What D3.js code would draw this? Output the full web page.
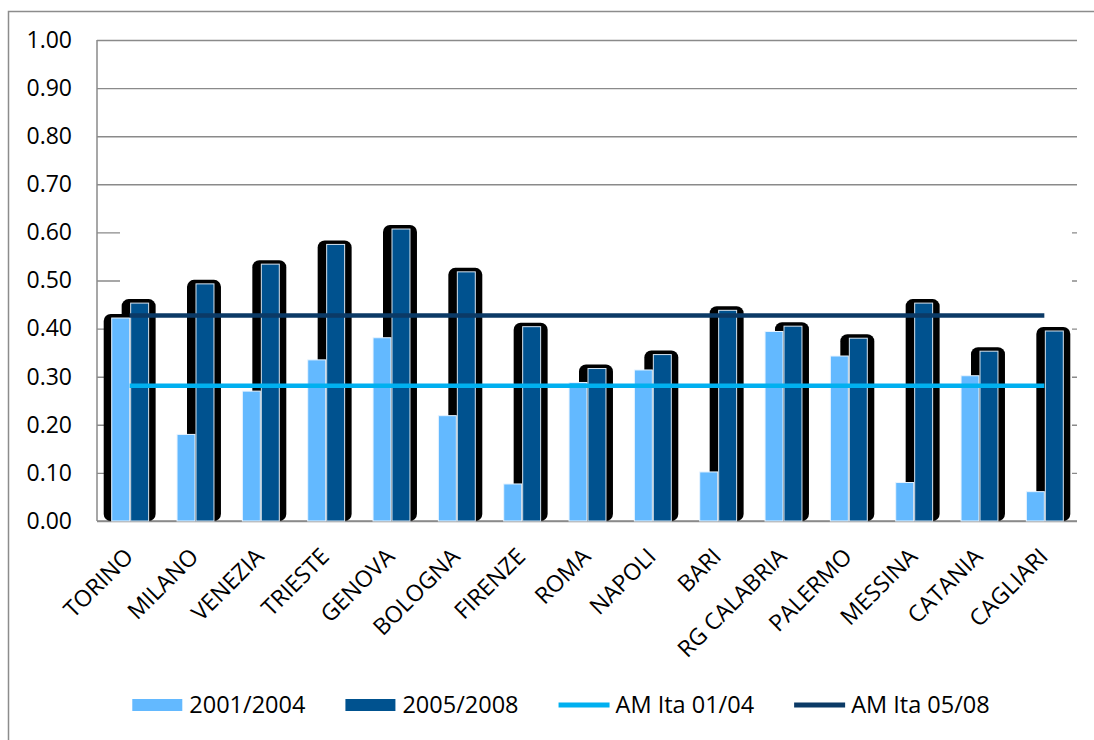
<!DOCTYPE html>
<html>
<head>
<meta charset="utf-8">
<script src="https://cdn.jsdelivr.net/npm/d3@7"></script>
<style>
  body { margin: 0; background: #fff; }
  svg { display: block; font-family: "Open Sans", sans-serif; }
</style>
</head>
<body>
<svg id="chart" width="1094" height="740"></svg>
<script>
var cities = ["TORINO", "MILANO", "VENEZIA", "TRIESTE", "GENOVA", "BOLOGNA", "FIRENZE", "ROMA",
  "NAPOLI", "BARI", "RG CALABRIA", "PALERMO", "MESSINA", "CATANIA", "CAGLIARI"];
var val0104 = [0.422, 0.18, 0.27, 0.335, 0.381, 0.219, 0.077, 0.288, 0.314, 0.102, 0.394, 0.343, 0.08, 0.302, 0.061];
var val0508 = [0.453, 0.493, 0.534, 0.575, 0.607, 0.518, 0.404, 0.317, 0.346, 0.438, 0.405, 0.38, 0.453, 0.353, 0.395];
var avg0104 = 0.281, avg0508 = 0.427;
var yTicks = [0, 0.1, 0.2, 0.3, 0.4, 0.5, 0.6, 0.7, 0.8, 0.9, 1.0];
var seriesNames = ["2001/2004", "2005/2008", "AM Ita 01/04", "AM Ita 05/08"];

var width = 1094, height = 740,
margin = {"top": 40, "right": 17, "bottom": 219, "left": 97};

var colLight = "#63b9ff", colDark = "#00528f", colAvg1 = "#00b0f0", colAvg2 = "#0b3a66", gridCol = "#8a8a8a";

var svg = d3.select("#chart");

// outer chart border (only left/top visible in the picture)
svg.append("rect")
  .attr("x", 8.5).attr("y", 11.5)
  .attr("width", width + 20).attr("height", height + 20)
  .attr("fill", "none").attr("stroke", "#8c8c8c").attr("stroke-width", 1.5);

var x = d3.scaleBand()
  .domain(cities)
  .range([margin.left, width - margin.right]);

var y = d3.scaleLinear()
  .domain([0, 1])
  .range([height - margin.bottom, margin.top]);

// gridlines + labels
var yAxis = g => g
  .attr("transform", `translate(${margin.left},0)`)
  .call(d3.axisLeft(y).tickValues(yTicks).tickFormat(d3.format(".2f"))
    .tickSize(-(width - margin.right - margin.left)).tickPadding(25))
  .call(g => g.select(".domain").remove())
  .call(g => g.selectAll(".tick line").attr("stroke", gridCol).attr("stroke-width", 1.4))
  .call(g => g.selectAll(".tick text").attr("fill", "#000").attr("font-size", 23)
    .attr("font-family", "Open Sans"));

svg.append("g").call(yAxis);

// white panel hiding the lower gridlines in the middle
svg.append("rect")
  .attr("x", margin.left + 23)
  .attr("y", y(0.65))
  .attr("width", width - margin.right - margin.left - 28)
  .attr("height", y(0) - y(0.65) - 1)
  .attr("fill", "#fff");

// axis lines
svg.append("line")
  .attr("x1", margin.left).attr("x2", margin.left)
  .attr("y1", y(1)).attr("y2", y(0))
  .attr("stroke", gridCol).attr("stroke-width", 1.5);
svg.append("line")
  .attr("x1", margin.left).attr("x2", width - margin.right)
  .attr("y1", y(0)).attr("y2", y(0))
  .attr("stroke", gridCol).attr("stroke-width", 1.5);

var bw = x.bandwidth() * 0.275;
var cx = d => x(d) + x.bandwidth() / 2;

var rows = cities.map((c, i) => ({city: c, a: val0104[i], b: val0508[i], i: i}));

// black rounded shadows
var shadows = svg.append("g").attr("class", "shadows");
shadows.selectAll("rect.sb")
  .data(rows)
  .enter().append("rect")
  .attr("x", d => cx(d.city) + 1 - 9)
  .attr("y", d => y(d.b) - 4)
  .attr("width", bw + 16)
  .attr("height", d => y(0) - y(d.b) + 4)
  .attr("rx", 7)
  .attr("fill", "#000");
shadows.selectAll("rect.sa")
  .data(rows.filter(d => d.i === 0))
  .enter().append("rect")
  .attr("x", d => cx(d.city) - bw - 8)
  .attr("y", d => y(d.a) - 4)
  .attr("width", bw + 16)
  .attr("height", d => y(0) - y(d.a) + 4)
  .attr("rx", 7)
  .attr("fill", "#000");

// bars
svg.append("g").selectAll("rect")
  .data(rows)
  .enter().append("rect")
  .attr("x", d => cx(d.city) - bw)
  .attr("y", d => y(d.a))
  .attr("width", bw)
  .attr("height", d => y(0) - y(d.a))
  .attr("fill", colLight)
  .attr("stroke", "#e8f4ff").attr("stroke-width", 1);

svg.append("g").selectAll("rect")
  .data(rows)
  .enter().append("rect")
  .attr("x", d => cx(d.city) + 1)
  .attr("y", d => y(d.b))
  .attr("width", bw)
  .attr("height", d => y(0) - y(d.b))
  .attr("fill", colDark)
  .attr("stroke", "#d6e4f0").attr("stroke-width", 1);

// average lines
[[avg0104, colAvg1], [avg0508, colAvg2]].forEach(function(a) {
  svg.append("line")
    .attr("x1", cx(cities[0])).attr("x2", cx(cities[cities.length - 1]))
    .attr("y1", y(a[0])).attr("y2", y(a[0]))
    .attr("stroke", a[1]).attr("stroke-width", 4.5);
});

// category labels
svg.append("g").selectAll("text")
  .data(cities)
  .enter().append("text")
  .attr("transform", d => `translate(${cx(d) + 5},${y(0) + 37}) rotate(-45)`)
  .attr("text-anchor", "end")
  .attr("font-size", 23)
  .attr("fill", "#000")
  .text(d => d);

// legend
var legend = svg.append("g").attr("class", "legend");
var lx = 0;
seriesNames.forEach(function(name, i) {
  var item = legend.append("g").attr("transform", `translate(${lx},0)`);
  if (i < 2) {
    item.append("rect").attr("x", 0).attr("y", -6).attr("width", 50).attr("height", 12)
      .attr("fill", i === 0 ? colLight : colDark);
  } else {
    item.append("line").attr("x1", 0).attr("x2", 51).attr("y1", 0).attr("y2", 0)
      .attr("stroke", i === 2 ? colAvg1 : colAvg2).attr("stroke-width", 5);
  }
  var t = item.append("text").attr("x", 57).attr("y", 8)
    .attr("font-size", 23.5).attr("fill", "#000").text(name);
  lx += 57 + t.node().getComputedTextLength() + 40;
});
var legW = lx - 40;
legend.attr("transform", `translate(${561 - legW / 2},705)`);
</script>
</body>
</html>
